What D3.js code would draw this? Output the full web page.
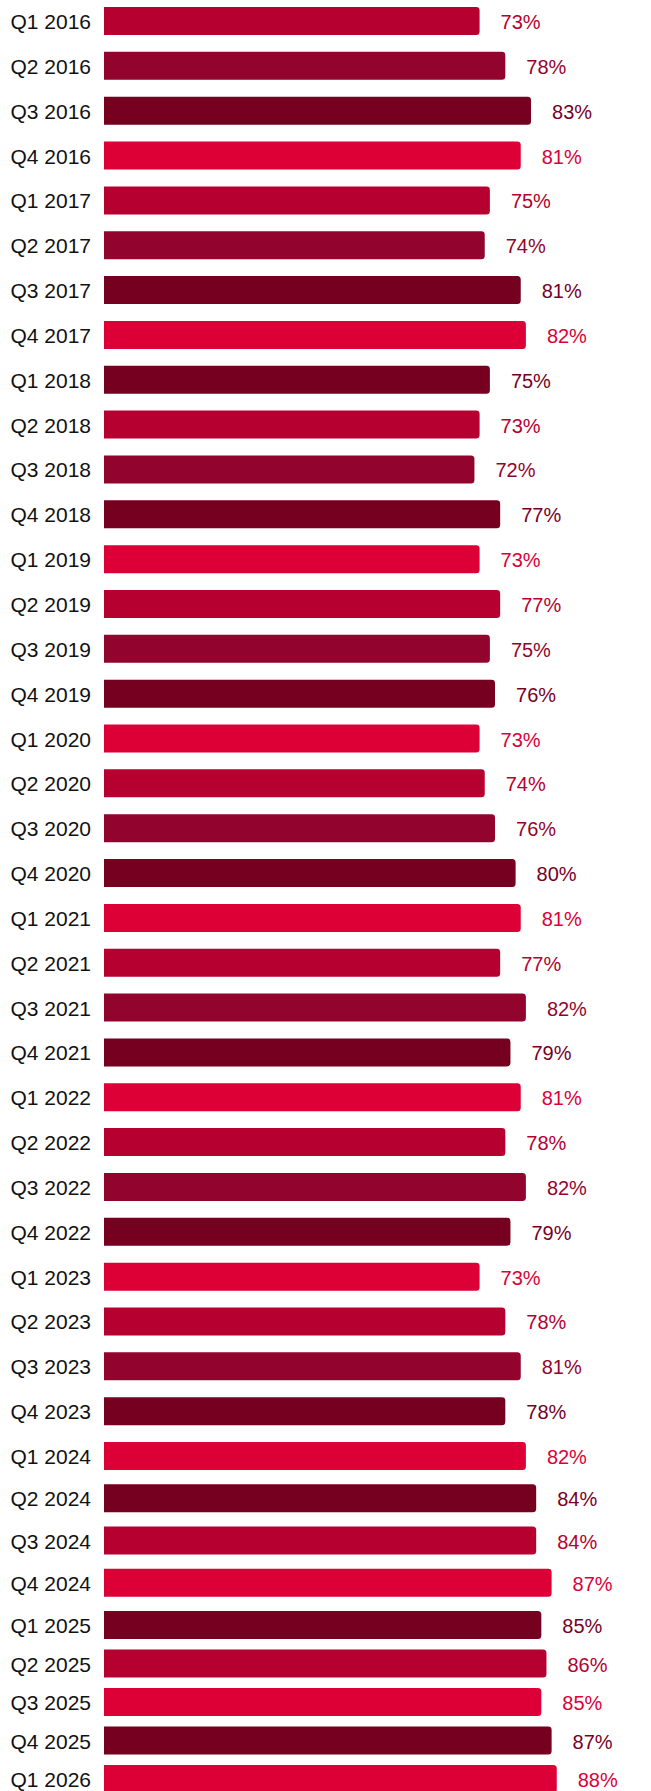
<!DOCTYPE html>
<html>
<head>
<meta charset="utf-8">
<script src="https://cdn.jsdelivr.net/npm/d3@7/dist/d3.min.js"></script>
<style>
  html, body { margin: 0; padding: 0; background: #ffffff; }
  svg { display: block; }
  text { font-family: "Liberation Sans", Arial, sans-serif; }
</style>
</head>
<body>
<svg id="chart" width="651" height="1791"></svg>
<script>
// Quarterly share, in percent
const quarters = [
  "Q1 2016", "Q2 2016", "Q3 2016", "Q4 2016",
  "Q1 2017", "Q2 2017", "Q3 2017", "Q4 2017",
  "Q1 2018", "Q2 2018", "Q3 2018", "Q4 2018",
  "Q1 2019", "Q2 2019", "Q3 2019", "Q4 2019",
  "Q1 2020", "Q2 2020", "Q3 2020", "Q4 2020",
  "Q1 2021", "Q2 2021", "Q3 2021", "Q4 2021",
  "Q1 2022", "Q2 2022", "Q3 2022", "Q4 2022",
  "Q1 2023", "Q2 2023", "Q3 2023", "Q4 2023",
  "Q1 2024", "Q2 2024", "Q3 2024", "Q4 2024",
  "Q1 2025", "Q2 2025", "Q3 2025", "Q4 2025",
  "Q1 2026"
];
const shares = [
  73, 78, 83, 81,
  75, 74, 81, 82,
  75, 73, 72, 77,
  73, 77, 75, 76,
  73, 74, 76, 80,
  81, 77, 82, 79,
  81, 78, 82, 79,
  73, 78, 81, 78,
  82, 84, 84, 87,
  85, 86, 85, 87,
  88
];
// Shade level of each bar: 0 bright, 1 medium, 2 dark, 3 darkest
const tones = [
  1, 2, 3, 0,
  1, 2, 3, 0,
  3, 1, 2, 3,
  0, 1, 2, 3,
  0, 1, 2, 3,
  0, 1, 2, 3,
  0, 1, 2, 3,
  0, 1, 2, 3,
  0, 3, 1, 0,
  3, 1, 0, 3,
  0
];

const palette = ["#dc0037", "#b50030", "#92042d", "#76001f"];
const tone = d3.scaleOrdinal().domain([0, 1, 2, 3]).range(palette);

const svg = d3.select("#chart");

const x = d3.scaleLinear().domain([0, 100]).range([104, 618.5]);

// Row centres; the last rows sit a little tighter so the latest quarter stays in frame
const rowY = d3.scaleLinear()
  .domain([0, 32, 36, 40])
  .range([21, 1456, 1625, 1779]);

const barH = 28;
const r = 3.5;

const rows = quarters.map((q, i) => ({ q, v: shares[i], t: tones[i], i }));

function barPath(d) {
  const x0 = x(0), x1 = x(d.v);
  const y0 = rowY(d.i) - barH / 2, y1 = y0 + barH;
  return `M${x0},${y0}H${x1 - r}A${r},${r} 0 0 1 ${x1},${y0 + r}` +
         `V${y1 - r}A${r},${r} 0 0 1 ${x1 - r},${y1}H${x0}Z`;
}

const g = svg.selectAll("g.row").data(rows).join("g").attr("class", "row");

g.append("path")
  .attr("d", barPath)
  .attr("fill", d => tone(d.t));

g.append("text")
  .attr("x", 91)
  .attr("y", d => rowY(d.i) + 8)
  .attr("text-anchor", "end")
  .attr("font-size", 21)
  .attr("fill", "#111111")
  .text(d => d.q);

g.append("text")
  .attr("x", d => x(d.v) + 21)
  .attr("y", d => rowY(d.i) + 8)
  .attr("text-anchor", "start")
  .attr("font-size", 20)
  .attr("fill", d => tone(d.t))
  .text(d => d.v + "%");
</script>
</body>
</html>
